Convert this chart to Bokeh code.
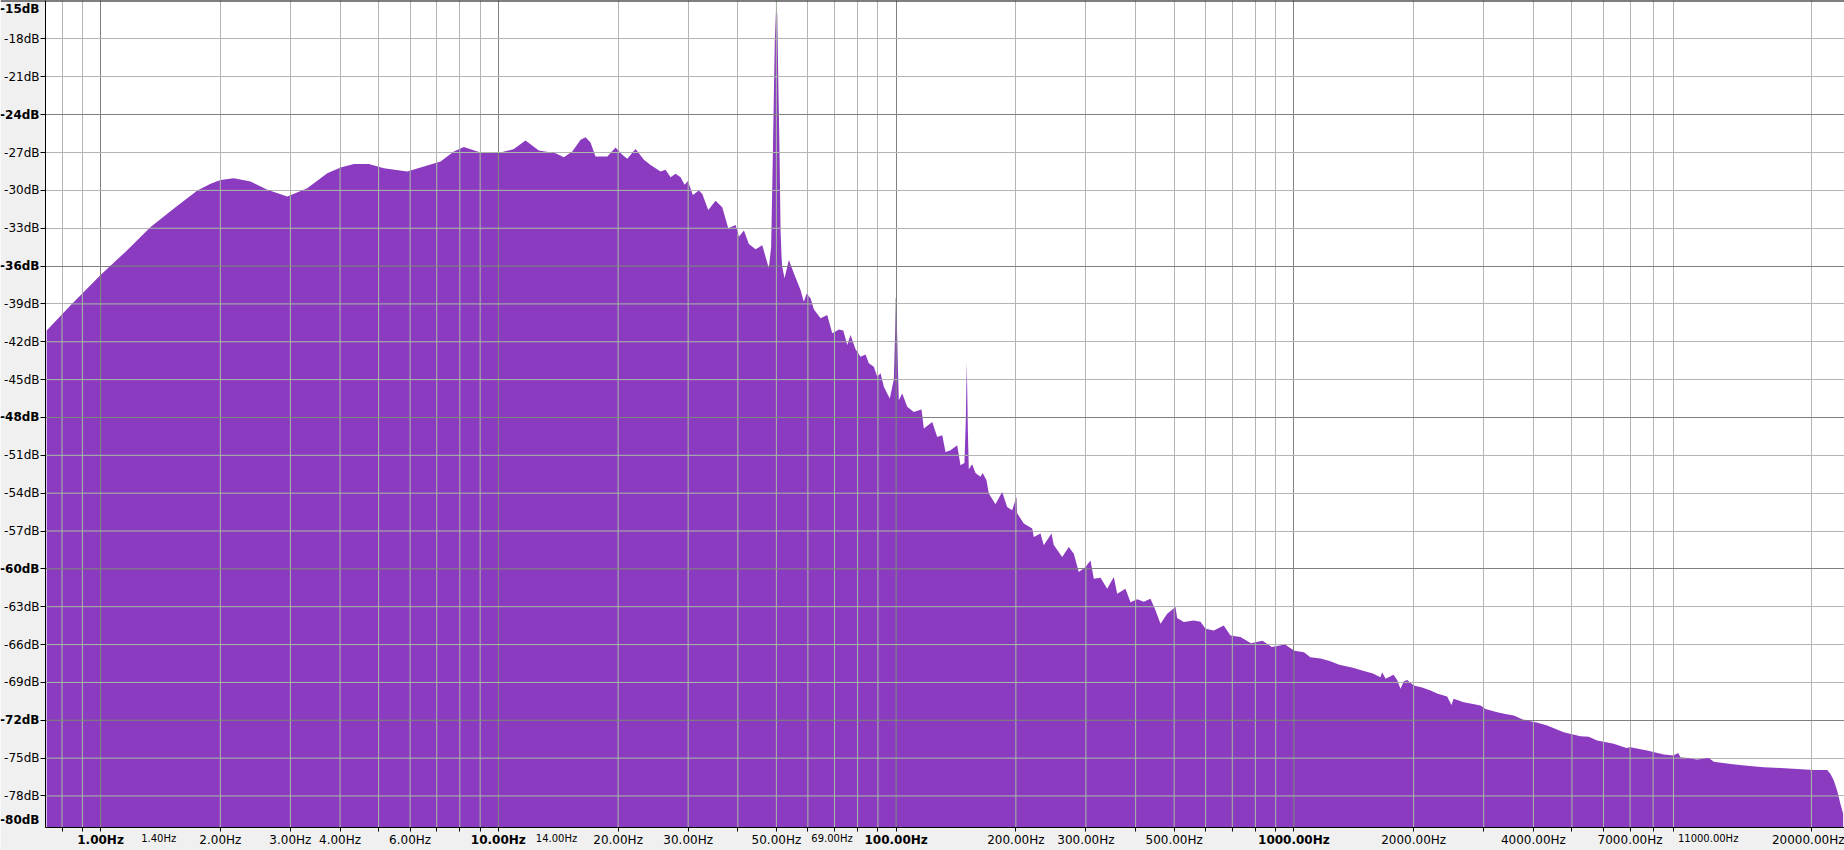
import numpy as np
from bokeh.plotting import figure
from bokeh.models import FixedTicker, Grid, CustomJSTickFormatter, Range1d, Span
from bokeh.core.properties import value
from bokeh.embed import file_html
from bokeh.resources import INLINE

# ---------------- data ----------------
freq_hz = [
    0.732, 0.841, 1.0, 1.156, 1.336, 1.543, 1.751, 1.891, 2.003, 2.163, 2.383, 2.625, 2.948, 3.308,
    3.715, 4.011, 4.333, 4.726, 5.154, 5.902, 6.497, 7.157, 7.730, 8.190, 9.020, 10.13, 10.94, 11.70,
    12.64, 13.93, 14.61, 15.34, 16.10, 16.57, 17.05, 17.55, 18.79, 19.71, 20.49, 21.09, 22.13, 23.22,
    24.14, 25.57, 26.32, 27.10, 27.89, 28.71, 29.39, 29.95, 30.83, 31.92, 32.56, 33.71, 35.16, 36.55,
    37.84, 39.48, 40.24, 41.43, 42.64, 44.33, 46.08, 47.86, 48.50, 48.98, 49.27, 49.55, 50.00, 50.25,
    50.54, 50.92, 51.22, 51.52, 51.72, 52.42, 53.74, 55.32, 57.50, 58.61, 59.54, 60.93, 62.10, 64.56,
    67.12, 69.09, 71.78, 73.63, 75.36, 76.81, 79.06, 81.39, 83.78, 85.39, 87.90, 89.65, 91.37, 93.14,
    94.98, 96.41, 98.67, 99.25, 100.05, 100.98, 101.57, 103.59, 106.63, 110.79, 115.84, 117.39, 123.25,
    126.87, 130.59, 133.11, 136.99, 142.40, 145.14, 148.5, 149.67, 150.54, 151.41, 152.29, 155.31,
    158.31, 162.96, 165.0, 168.72, 170.98, 177.73, 184.75, 190.17, 195.76, 200.69, 201.51, 209.39,
    219.83, 221.87, 230.63, 235.07, 245.79, 249.08, 261.50, 271.69, 279.66, 287.88, 299.28, 308.08,
    314.02, 326.44, 339.35, 352.56, 359.57, 377.26, 388.33, 403.69, 419.40, 435.97, 448.77, 461.94,
    480.21, 503.84, 508.82, 528.63, 560.14, 582.30, 599.40, 628.89, 666.37, 692.72, 734.0, 780.0,
    834.0, 880.0, 950.0, 1002.0, 1060.0, 1100.0, 1167.0, 1230.0, 1300.0, 1407.0, 1500.0, 1580.0,
    1651.0, 1667.0, 1700.0, 1780.0, 1818.0, 1853.0, 1890.0, 1927.0, 2001.0, 2100.0, 2205.0, 2300.0,
    2428.0, 2490.0, 2520.0, 2673.0, 2800.0, 2945.0, 3031.0, 3244.0, 3400.0, 3571.0, 3785.0, 3933.0,
    4100.0, 4332.0, 4768.0, 5000.0, 5252.0, 5512.0, 5785.0, 6000.0, 6369.0, 6856.0, 7014.0, 7726.0,
    8505.0, 9000.0, 9247.0, 9371.0, 10322.0, 11042.0, 11363.0, 12515.0, 13786.0, 15178.0, 16716.0,
    18414.0, 20274.0, 21911.0, 22334.0, 22764.0, 23216.0, 23659.0, 24031.0,
]
level_db = [
    -41.1, -39.1, -36.7, -34.86, -32.9, -31.33, -30.0, -29.48, -29.17, -29.03, -29.3, -29.96, -30.49, -29.83,
    -28.64, -28.19, -27.9, -27.9, -28.24, -28.5, -28.1, -27.71, -26.92, -26.57, -27.0, -27.0, -26.73, -26.05,
    -26.84, -27.05, -27.37, -26.92, -25.99, -25.78, -26.2, -27.32, -27.32, -26.6, -27.18, -27.5, -26.73, -27.58,
    -27.98, -28.5, -28.37, -28.95, -28.69, -28.95, -29.56, -29.25, -30.36, -30.0, -30.28, -31.55, -30.83, -31.33,
    -33.0, -32.74, -33.67, -33.19, -34.25, -34.67, -34.35, -36.18, -34.5, -27.3, -22.5, -18.1, -15.0, -16.1,
    -21.0, -27.0, -33.1, -35.3, -36.05, -36.97, -35.52, -36.57, -37.9, -38.83, -38.2, -38.56, -39.43, -40.14,
    -39.88, -41.33, -41.02, -41.1, -42.26, -41.47, -42.6, -43.19, -43.0, -43.71, -43.98, -44.78, -44.5, -45.57,
    -46.1, -46.49, -45.0, -42.1, -38.3, -43.7, -46.63, -46.1, -47.16, -47.56, -47.37, -48.87, -48.35,
    -49.54, -49.4, -50.73, -50.6, -50.2, -51.79, -51.6, -48.3, -43.6, -48.8, -52.1, -51.7,
    -52.4, -52.7, -52.4, -52.98, -54.03, -54.88, -53.9, -55.1, -55.36, -54.3, -55.6, -56.41,
    -56.8, -57.48, -57.2, -58.13, -57.2, -58.1, -59.06, -58.27, -58.8, -60.25, -59.86, -59.33,
    -60.78, -60.7, -61.57, -60.65, -61.97, -61.57, -62.64, -62.4, -62.6, -62.37, -63.29, -64.35,
    -63.56, -63.03, -63.9, -64.22, -64.1, -64.2, -64.75, -64.88, -64.48, -65.28, -65.41, -65.9,
    -65.7, -66.2, -66.0, -66.5, -66.6, -67.0, -67.1, -67.3, -67.6, -67.83, -68.1, -68.3,
    -68.6, -68.2, -68.7, -68.4, -68.8, -69.5, -68.9, -68.8, -69.25, -69.4, -69.64, -69.9,
    -70.12, -70.8, -70.3, -70.57, -70.7, -70.83, -71.1, -71.36, -71.5, -71.63, -71.97, -72.08,
    -72.2, -72.42, -72.95, -73.1, -73.27, -73.3, -73.61, -73.7, -73.87, -74.2, -74.14, -74.4,
    -74.72, -74.8, -74.6, -74.93, -75.12, -75.0, -75.28, -75.46, -75.6, -75.73, -75.78,
    -75.86, -75.94, -75.94, -76.25, -76.78, -77.58, -78.63, -79.4,
]
assert len(freq_hz) == len(level_db), (len(freq_hz), len(level_db))

x_grid_minor = [0.8, 0.9, 2, 3, 4, 5, 6, 7, 8, 9, 20, 30, 40, 50, 60, 70, 80, 90,
                200, 300, 400, 500, 600, 700, 800, 900,
                2000, 3000, 4000, 5000, 6000, 7000, 8000, 9000, 20000]
x_grid_major = [1, 10, 100, 1000]
y_grid_minor = [-18, -21, -27, -30, -33, -39, -42, -45, -51, -54, -57, -63, -66, -69, -75, -78]
y_grid_major = [-24, -36, -48, -60, -72]

x_labels_normal = [2, 3, 4, 6, 20, 30, 50, 200, 300, 500, 2000, 4000, 7000, 20000]
x_labels_bold = [1, 10, 100, 1000]
x_labels_small = [1.4, 14, 69, 11000]
y_labels_normal = y_grid_minor
y_labels_bold = [-15, -24, -36, -48, -60, -72, -80]

# ---------------- layout / style ----------------
W, H = 1844, 850
LEFT, BOTTOM = 45, 23
DX0, DX1 = 0.727, 24220.0      # data area, x (Hz)
DY0, DY1 = -80.5, -14.95       # data area, y (dB)
PURPLE = "#8b3bbf"
BORDER_BG = "#f0f0f0"
GRID_LIGHT = "#b4b4b4"
GRID_DARK = "#808080"
GRID_LIGHT_IN = "#a8bca2"
GRID_DARK_IN = "#7c8c78"
FONT = "DejaVu Sans"

px_per_dec = (W - LEFT) / (np.log10(DX1) - np.log10(DX0))
px_per_db = (H - BOTTOM) / (DY1 - DY0)
XLO = 10 ** (np.log10(DX0) - LEFT / px_per_dec)
YLO = DY0 - BOTTOM / px_per_db


def y_below(px):
    return DY0 - px / px_per_db


def x_leftof(px):
    return 10 ** (np.log10(DX0) - px / px_per_dec)


p = figure(width=W, height=H, x_axis_type="log",
           x_range=Range1d(XLO, DX1), y_range=Range1d(YLO, DY1),
           output_backend="svg", toolbar_location=None,
           min_border_left=0, min_border_right=0, min_border_top=0, min_border_bottom=0)
p.background_fill_color = "white"
p.border_fill_color = BORDER_BG
p.outline_line_color = None
p.xgrid.visible = False
p.ygrid.visible = False

for dim, ticks, col in [(0, x_grid_minor, GRID_LIGHT), (0, x_grid_major, GRID_DARK),
                        (1, y_grid_minor, GRID_LIGHT), (1, y_grid_major, GRID_DARK)]:
    p.add_layout(Grid(dimension=dim, ticker=FixedTicker(ticks=ticks), grid_line_color=col, grid_line_width=1))

# spectrum
p.varea(x=freq_hz, y1=DY0, y2=level_db, fill_color=PURPLE, fill_alpha=1.0)

# grid lines lying inside the filled spectrum
lf = np.log10(np.array(freq_hz, dtype=float))
db = np.array(level_db, dtype=float)


def runs_above(level):
    segs = []
    inside = db[0] >= level
    start = np.log10(DX0) if inside else None
    for i in range(1, len(db)):
        a, b = db[i - 1], db[i]
        if (a >= level) != (b >= level):
            t = (level - a) / (b - a)
            xc = lf[i - 1] + t * (lf[i] - lf[i - 1])
            if inside:
                segs.append((start, xc))
                inside = False
            else:
                start = xc
                inside = True
    if inside:
        segs.append((start, lf[-1]))
    return segs


for ticks, col in [(x_grid_minor, GRID_LIGHT_IN), (x_grid_major, GRID_DARK_IN)]:
    xs, tops = [], []
    for gv in ticks:
        lg = np.log10(gv)
        if lf[0] <= lg <= lf[-1]:
            xs.append(gv)
            tops.append(float(np.interp(lg, lf, db)))
    p.segment(x0=xs, y0=[DY0] * len(xs), x1=xs, y1=tops, line_color=col, line_width=1)

for ticks, col in [(y_grid_minor, GRID_LIGHT_IN), (y_grid_major, GRID_DARK_IN)]:
    x0s, x1s, ys = [], [], []
    for lv in ticks:
        for a, b in runs_above(lv):
            x0s.append(10 ** a)
            x1s.append(10 ** b)
            ys.append(lv)
    p.segment(x0=x0s, y0=ys, x1=x1s, y1=ys, line_color=col, line_width=1)

# grey margins (axis areas) inside the canvas
p.quad(left=[XLO, XLO], right=[DX0, DX1], bottom=[YLO, YLO], top=[DY1, DY0],
       fill_color=BORDER_BG, line_color=None)

# top frame line
p.add_layout(Span(location=DY1, dimension="width", line_color="black", line_width=2))

# axes
xa = p.xaxis[0]
xa.fixed_location = DY0
xa.bounds = (DX0, DX1)
xa.ticker = FixedTicker(ticks=x_labels_normal,
                        minor_ticks=[t for t in x_grid_minor + x_grid_major if t not in x_labels_normal])
xa.formatter = CustomJSTickFormatter(code="return tick.toFixed(2) + 'Hz';")
xa.major_tick_out = 4
xa.major_tick_in = 0
xa.minor_tick_out = 4
xa.minor_tick_in = 0
xa.major_label_standoff = 1
xa.major_label_text_font = FONT
xa.major_label_text_font_size = "12px"
xa.major_label_text_color = "black"
xa.axis_line_color = "black"

ya = p.yaxis[0]
ya.fixed_location = DX0
ya.bounds = (DY0, DY1)
ya.ticker = FixedTicker(ticks=y_labels_normal, minor_ticks=y_grid_major)
ya.formatter = CustomJSTickFormatter(code="return tick.toFixed(0) + 'dB';")
ya.major_tick_out = 5
ya.major_tick_in = 0
ya.minor_tick_out = 5
ya.minor_tick_in = 0
ya.major_label_standoff = 1
ya.major_label_text_font = FONT
ya.major_label_text_font_size = "12px"
ya.major_label_text_color = "black"
ya.axis_line_color = "black"

# bold / small tick labels (Audacity style)
p.text(x=x_labels_bold, y=[y_below(12)] * len(x_labels_bold),
       text=[f"{v:.2f}Hz" for v in x_labels_bold], text_align="center", text_baseline="middle",
       text_font=value(FONT), text_font_size=value("12px"), text_font_style=value("bold"),
       text_color="black")
p.text(x=x_labels_small, y=[y_below(10.5)] * len(x_labels_small),
       text=[f"{v:.2f}Hz" for v in x_labels_small], text_align="center", text_baseline="middle",
       text_font=value(FONT), text_font_size=value("10px"), text_color="black")
yb_pos = []
for v in y_labels_bold:
    if v == -15:
        yb_pos.append(DY1 - 8 / px_per_db)
    elif v == -80:
        yb_pos.append(DY0 + 8 / px_per_db)
    else:
        yb_pos.append(v)
p.text(x=[x_leftof(6)] * len(y_labels_bold), y=yb_pos,
       text=[f"{v}dB" for v in y_labels_bold], text_align="right", text_baseline="middle",
       text_font=value(FONT), text_font_size=value("12px"), text_font_style=value("bold"),
       text_color="black")

open("out.html", "w").write(file_html(p, INLINE))
